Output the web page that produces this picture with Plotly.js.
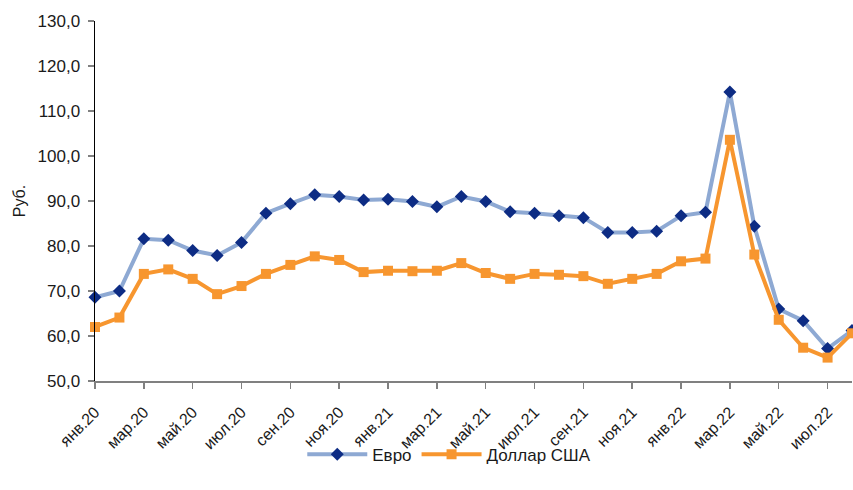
<!DOCTYPE html>
<html>
<head>
<meta charset="utf-8">
<script src="https://cdn.plot.ly/plotly-3.0.1.min.js"></script>
<style>html,body{margin:0;padding:0;background:#fff;}#chart{width:853px;height:490px;}</style>
</head>
<body>
<div id="chart"></div>
<script>
const months = ['янв.20','фев.20','мар.20','апр.20','май.20','июн.20','июл.20','авг.20','сен.20','окт.20','ноя.20','дек.20',
  'янв.21','фев.21','мар.21','апр.21','май.21','июн.21','июл.21','авг.21','сен.21','окт.21','ноя.21','дек.21',
  'янв.22','фев.22','мар.22','апр.22','май.22','июн.22','июл.22','авг.22'];
const euro = [68.6,70.0,81.6,81.3,79.0,77.9,80.8,87.3,89.4,91.4,91.0,90.2,
  90.4,89.9,88.7,91.0,89.9,87.6,87.3,86.7,86.3,83.0,83.0,83.3,
  86.7,87.5,114.2,84.4,66.0,63.4,57.2,61.2];
const usd = [62.0,64.1,73.8,74.8,72.7,69.3,71.1,73.8,75.8,77.7,76.9,74.2,
  74.5,74.4,74.5,76.2,74.0,72.7,73.8,73.6,73.3,71.6,72.7,73.8,
  76.6,77.2,103.6,78.1,63.6,57.4,55.2,60.6];
const tickLabels = months.filter((m, i) => i % 2 === 0);
const yTicks = [50,60,70,80,90,100,110,120,130];

const traces = [
  {x: months, y: euro, name: 'Евро', type: 'scatter', mode: 'lines+markers', cliponaxis: false,
   line: {color: '#8EA9D3', width: 4},
   marker: {symbol: 'diamond', size: 10, color: '#0D2C84'}},
  {x: months, y: usd, name: 'Доллар США', type: 'scatter', mode: 'lines+markers', cliponaxis: false,
   line: {color: '#F7962F', width: 4},
   marker: {symbol: 'square', size: 10, color: '#F7962F'}}
];

const layout = {
  width: 853, height: 490,
  margin: {l: 95, r: 1, t: 21, b: 109},
  paper_bgcolor: '#fff', plot_bgcolor: '#fff',
  font: {family: 'Liberation Sans, Arial, sans-serif', color: '#1a1a1a', size: 16},
  separators: ', ',
  showlegend: true,
  legend: {orientation: 'h', x: 0.468, xanchor: 'center', y: -0.205, yanchor: 'middle',
    bgcolor: 'rgba(0,0,0,0)', font: {size: 17, color: '#1a1a1a'}, itemwidth: 60},
  xaxis: {type: 'category', range: [0, 31], tickmode: 'array', tickvals: tickLabels, ticktext: tickLabels,
    tickangle: -45, ticks: 'outside', ticklen: 6, tickcolor: '#808080', tickwidth: 1.5,
    showline: true, linecolor: '#808080', linewidth: 1.5, showgrid: false, zeroline: false,
    tickfont: {size: 16, color: '#1a1a1a'}, ticklabelstandoff: 8, fixedrange: true},
  yaxis: {range: [50, 130], tickmode: 'array', tickvals: yTicks, tickformat: '.1f',
    ticks: 'outside', ticklen: 6, tickcolor: '#808080', tickwidth: 1.5,
    showline: true, linecolor: '#000', linewidth: 1.5, showgrid: false, zeroline: false,
    tickfont: {size: 17, color: '#1a1a1a'}, ticklabelstandoff: 4,
    title: {text: 'Руб.', font: {size: 16, color: '#1a1a1a'}, standoff: 8}, fixedrange: true}
};

Plotly.newPlot('chart', traces, layout, {displayModeBar: false, staticPlot: true});
</script>
</body>
</html>
